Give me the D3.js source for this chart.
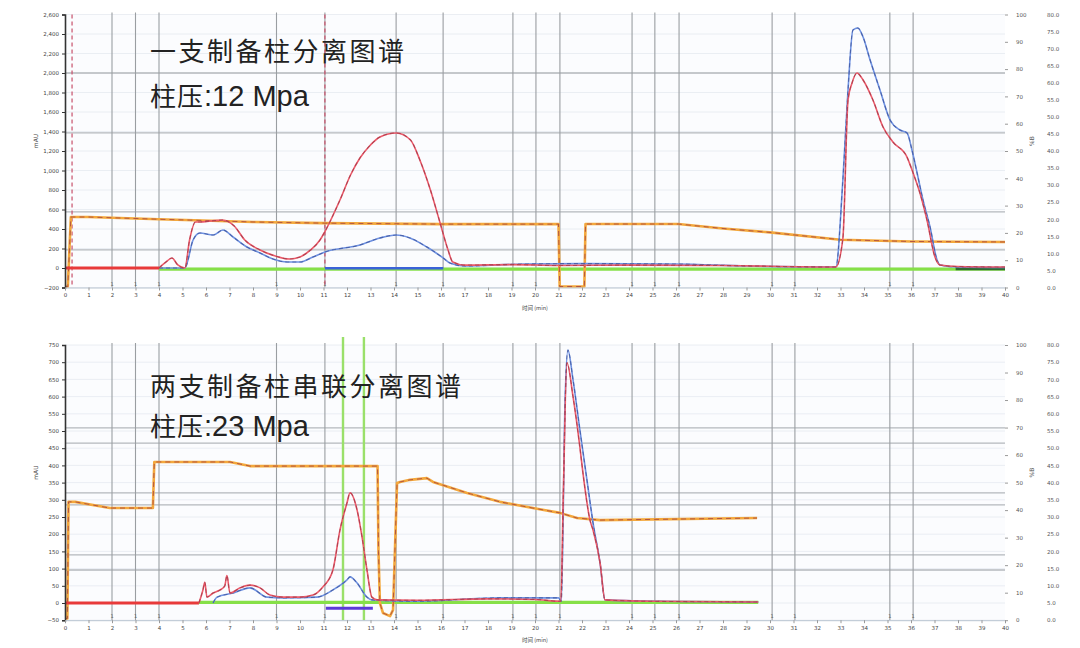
<!DOCTYPE html>
<html><head><meta charset="utf-8">
<script src="https://cdn.jsdelivr.net/npm/d3@7"></script>
<style>body{margin:0;background:#fff}</style>
</head><body><svg id="c" width="1080" height="648"></svg>
<script>
// ---------- shared ----------
const xTicks = d3.range(0, 41, 1);
const gridX = [2, 3, 4, 9, 11.06, 14.09, 16.09, 19.06, 20.04, 21.06, 24.13, 25.1, 26.13, 30.09, 31.06, 35.1, 36.09];
const rightTicks1 = d3.range(0, 101, 10);
const rightTicks2 = d3.range(0, 81, 5);
const xTitle = "时间 (min)";
const yTitleLeft = "mAU";
const yTitleRight = "%B";

// ---------- top panel: one column ----------
const topTitle = "一支制备柱分离图谱";
const topPressureLabel = "柱压";
const topPressureValue = ":12 Mpa";
const topLeftTicks = d3.range(-200, 2601, 200);
const topGridY = [2000, 1385, 575, 185];
const topMarkers = [0.3, 11.06];
const topRedBase = [[0, 0], [4.0, 0]];
const topRed = [[4.0,0],[4.3,62],[4.55,103],[4.8,31],[5.1,0],[5.3,287],[5.55,472],[5.75,472],[6.2,482],[6.7,492],[7.2,431],[7.65,287],[8.3,185],[8.95,123],[9.55,92],[10.0,113],[10.45,185],[10.85,287],[11.05,369],[11.7,697],[12.15,954],[12.55,1128],[13.0,1262],[13.4,1344],[14.1,1385],[14.7,1313],[15.1,1108],[15.55,800],[15.95,472],[16.3,185],[16.5,62],[17,30],[19,35],[21,25],[24,30],[28,25],[32.8,10],[33.1,300],[33.32,1723],[33.49,1897],[33.7,2000],[33.96,1928],[34.38,1723],[34.81,1446],[35.23,1292],[35.83,1138],[36.09,974],[36.38,769],[36.68,492],[37.02,113],[37.23,31],[38,15],[40,10]];
const topBlue = [[4.0,0],[5.1,0],[5.45,287],[5.74,359],[6.3,338],[6.72,390],[7.15,318],[7.74,215],[8.3,154],[8.85,92],[9.45,62],[10.0,62],[10.55,113],[11.06,164],[12.55,236],[13.4,308],[14.09,338],[14.68,308],[15.4,215],[16.09,103],[16.38,51],[17,20],[19.5,41],[22,45],[26,41],[29,20],[32.8,10],[33.1,900],[33.32,1826],[33.53,2441],[33.74,2462],[33.96,2369],[34.26,2133],[34.68,1826],[35.11,1518],[35.53,1415],[35.83,1385],[36.04,1210],[36.26,974],[36.51,697],[36.81,421],[37.11,82],[37.23,31],[38,10],[40,5]];
const topOrange = [[0,-190],[0.12,-190],[0.25,523],[1,523],[4,500],[5.5,490],[8,472],[11,460],[16,450],[21.0,450],[21.05,-190],[22.1,-190],[22.15,451],[24,451],[26.1,451],[28,405],[30,365],[33,290],[36,272],[40,267]];
const topGreen = [[4.0,-12],[40,-12]];
const topBlueBase = [[11.06,-3],[16.1,-3]];
const topDarkGreen = [[37.9,-8],[40,-8]];
const topGreenMarkers = [];
const topPurpleBase = [];

// ---------- bottom panel: two columns in series ----------
const botTitle = "两支制备柱串联分离图谱";
const botPressureLabel = "柱压";
const botPressureValue = ":23 Mpa";
const botLeftTicks = d3.range(-50, 751, 50);
const botGridY = [509, 465, 320, 285, 140, 96];
const botMarkers = [];
const botGreenMarkers = [11.83, 12.72];
const botRedBase = [[0, 0], [5.7, 0]];
const botRed = [[5.7,0],[5.87,38],[5.95,60],[6.04,17],[6.3,29],[6.6,38],[6.8,50],[6.89,80],[7.02,29],[7.45,44],[7.87,52],[8.3,44],[8.72,23],[9.28,17],[10.0,17],[10.55,23],[10.98,47],[11.4,96],[11.7,212],[12.0,291],[12.13,320],[12.43,270],[12.64,192],[12.85,96],[13.06,17],[13.28,9],[15,8],[18,12],[20,10],[21.1,5],[21.2,300],[21.36,698],[21.62,599],[21.91,453],[22.04,378],[22.34,241],[22.47,212],[22.77,116],[22.98,9],[25,5],[29.5,3]];
const botBlue = [[6.3,0],[6.47,17],[7.15,29],[7.87,44],[8.6,17],[9.28,15],[10.72,17],[11.4,38],[12.0,67],[12.13,76],[12.43,58],[12.85,17],[13.06,9],[15,5],[18.5,15],[21.0,15],[21.12,5],[21.28,590],[21.4,735],[21.62,648],[21.91,503],[22.21,358],[22.47,233],[22.77,116],[22.98,9],[25,5],[29.5,3]];
const botOrange = [[0,-45],[0.1,-45],[0.15,294],[0.43,294],[1.91,276],[3.74,276],[3.8,410],[7.02,410],[7.87,398],[13.3,398],[13.34,150],[13.4,0],[13.53,-29],[13.83,-38],[13.96,-20],[14.13,349],[14.26,352],[14.68,358],[15.4,363],[15.66,352],[17.11,320],[18.51,294],[19.91,276],[21.06,262],[21.79,247],[22.77,241],[29.45,247]];
const botGreen = [[5.7,2],[29.5,2]];
const botBlueBase = [];
const botDarkGreen = [];
const botPurpleBase = [[11.1,-15],[13.1,-15]];

// ---------- drawing ----------
const svg = d3.select("#c");
const x = d3.scaleLinear().domain([0, 40]).range([65, 1005]);

function drawPanel(p) {
  const g = svg.append("g");
  const y = d3.scaleLinear().domain(p.yDomain).range([p.bottom, p.top]);
  const yR1 = d3.scaleLinear().domain([0, 100]).range([p.bottom, p.top]);
  const yR2 = d3.scaleLinear().domain([0, 80]).range([p.bottom, p.top]);

  g.append("rect").attr("x", x(0)).attr("y", p.top).attr("width", x(40) - x(0))
    .attr("height", p.bottom - p.top).attr("fill", "#fbfcfe");

  g.append("g").selectAll("line").data(p.leftTicks).join("line")
    .attr("x1", x(0)).attr("x2", x(40)).attr("y1", d => y(d)).attr("y2", d => y(d))
    .attr("stroke", "#e6eaf0").attr("stroke-width", 0.8);
  g.append("g").selectAll("line").data(p.gridY).join("line")
    .attr("x1", x(0)).attr("x2", x(40)).attr("y1", d => y(d)).attr("y2", d => y(d))
    .attr("stroke", "#b4b8bc").attr("stroke-width", 1.3);
  g.append("g").selectAll("line").data(gridX).join("line")
    .attr("x1", d => x(d)).attr("x2", d => x(d)).attr("y1", p.top - 2).attr("y2", p.bottom)
    .attr("stroke", "#9a9ea2").attr("stroke-width", 1.1);
  g.append("g").selectAll("text").data(gridX).join("text")
    .attr("x", d => x(d)).attr("y", p.bottom - 2).attr("text-anchor", "middle")
    .attr("font-size", 5).attr("fill", "#666").attr("font-family", "DejaVu Sans").text("1");

  g.append("g").selectAll("line").data(p.markers).join("line")
    .attr("x1", d => x(d)).attr("x2", d => x(d)).attr("y1", p.top).attr("y2", p.bottom)
    .attr("stroke", "#c8506a").attr("stroke-width", 1.2).attr("stroke-dasharray", "4 3");
  g.append("g").selectAll("line").data(p.greenMarkers).join("line")
    .attr("x1", d => x(d)).attr("x2", d => x(d)).attr("y1", p.top - 8).attr("y2", p.bottom)
    .attr("stroke", "#9ae06a").attr("stroke-width", 2.4);

  const lin = d3.line().x(d => x(d[0])).y(d => y(d[1]));
  const smooth = d3.line().x(d => x(d[0])).y(d => y(d[1])).curve(d3.curveMonotoneX);

  function path(data, gen, color, w, dash, op) {
    if (!data.length) return;
    g.append("path").datum(data).attr("d", gen).attr("fill", "none")
      .attr("stroke", color).attr("stroke-width", w)
      .attr("stroke-dasharray", dash || null).attr("opacity", op || 1)
      .attr("stroke-linejoin", "round");
  }

  path(p.green, lin, "#86e048", 3.2);
  path(p.darkGreen, lin, "#2f6a30", 3);
  path(p.orange, lin, "#f3a83c", 2.6);
  path(p.orange, lin, "#9a3040", 1, "5 4", 0.7);
  path(p.blueBase, lin, "#3a62d8", 2.6);
  path(p.purpleBase, lin, "#5a3ad8", 3);
  path(p.redBase, lin, "#e83a3a", 3.2);
  path(p.blue, smooth, "#6f92e2", 1.6);
  path(p.blue, smooth, "#2a3a80", 1.1, "4 3", 0.55);
  path(p.red, smooth, "#ec5a6a", 1.6);
  path(p.red, smooth, "#7a2836", 1.1, "4 3", 0.5);

  const la = d3.axisLeft(y).tickValues(p.leftTicks).tickSize(3).tickFormat(d3.format(","));
  const lg = g.append("g").attr("transform", `translate(${x(0)},0)`).call(la);
  lg.select(".domain").attr("stroke", "#333").attr("stroke-width", 1.6);
  lg.selectAll(".tick line").attr("stroke", "#333");
  lg.selectAll("text").attr("font-size", 5.5).attr("fill", "#444").attr("font-family", "DejaVu Sans");
  g.append("text").attr("transform", `translate(38,${(p.top + p.bottom) / 2 - 10}) rotate(-90)`)
    .attr("text-anchor", "middle").attr("font-size", 6).attr("fill", "#444")
    .attr("font-family", "DejaVu Sans").text(yTitleLeft);

  const ba = d3.axisBottom(x).tickValues(xTicks).tickSize(3).tickFormat(d3.format("d"));
  const bg = g.append("g").attr("transform", `translate(0,${p.bottom})`).call(ba);
  bg.select(".domain").attr("stroke", "#b8c4d0");
  bg.selectAll(".tick line").attr("stroke", "#999");
  bg.selectAll("text").attr("font-size", 5.5).attr("fill", "#444").attr("font-family", "DejaVu Sans");
  g.append("text").attr("x", x(20)).attr("y", p.bottom + 22).attr("text-anchor", "middle")
    .attr("font-size", 5.5).attr("fill", "#444").attr("font-family", "Noto Sans CJK SC").text(xTitle);

  const r1 = d3.axisRight(yR1).tickValues(rightTicks1).tickSize(3).tickPadding(8);
  const rg1 = g.append("g").attr("transform", `translate(${x(40)},0)`).call(r1);
  rg1.select(".domain").remove();
  rg1.selectAll(".tick line").attr("stroke", "#999");
  rg1.selectAll("text").attr("font-size", 5.5).attr("fill", "#555").attr("font-family", "DejaVu Sans");
  const r2 = d3.axisRight(yR2).tickValues(rightTicks2).tickSize(0).tickFormat(d3.format(".1f"));
  const rg2 = g.append("g").attr("transform", `translate(1044,0)`).call(r2);
  rg2.select(".domain").remove();
  rg2.selectAll("text").attr("font-size", 5.5).attr("fill", "#555").attr("font-family", "DejaVu Sans");
  g.append("text").attr("transform", `translate(1034,${(p.top + p.bottom) / 2 - 10}) rotate(-90)`)
    .attr("text-anchor", "middle").attr("font-size", 6).attr("fill", "#555")
    .attr("font-family", "DejaVu Sans").text(yTitleRight);

  const ff = "'Liberation Sans', 'Noto Sans CJK SC', sans-serif";
  g.append("text").attr("x", 150).attr("y", p.titleY).attr("font-size", 26)
    .attr("letter-spacing", 2.5).attr("fill", "#222").attr("font-family", ff).text(p.title);
  const pt = g.append("text").attr("x", 150).attr("y", p.pressY).attr("fill", "#222").attr("font-family", ff);
  pt.append("tspan").attr("font-size", 26).attr("letter-spacing", 1).text(p.pressureLabel);
  pt.append("tspan").attr("font-size", 29).text(p.pressureValue);
}

drawPanel({
  top: 14.5, bottom: 287.5, yDomain: [-200, 2600], leftTicks: topLeftTicks, gridY: topGridY,
  markers: topMarkers, greenMarkers: topGreenMarkers,
  red: topRed, redBase: topRedBase, blue: topBlue, orange: topOrange, green: topGreen,
  blueBase: topBlueBase, darkGreen: topDarkGreen, purpleBase: topPurpleBase,
  title: topTitle, pressureLabel: topPressureLabel, pressureValue: topPressureValue, titleY: 61, pressY: 106
});
drawPanel({
  top: 345, bottom: 620.2, yDomain: [-50, 750], leftTicks: botLeftTicks, gridY: botGridY,
  markers: botMarkers, greenMarkers: botGreenMarkers,
  red: botRed, redBase: botRedBase, blue: botBlue, orange: botOrange, green: botGreen,
  blueBase: botBlueBase, darkGreen: botDarkGreen, purpleBase: botPurpleBase,
  title: botTitle, pressureLabel: botPressureLabel, pressureValue: botPressureValue, titleY: 396, pressY: 436
});
</script></body></html>
